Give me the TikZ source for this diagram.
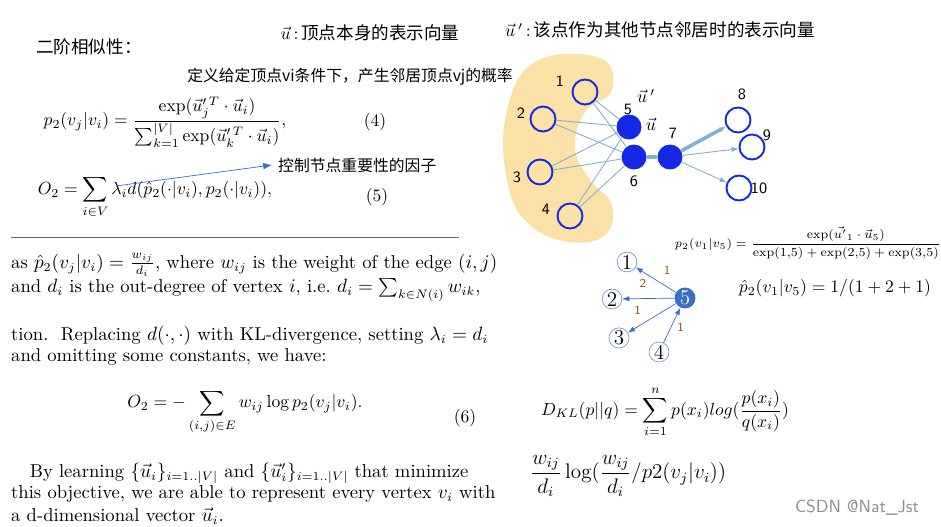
\documentclass[tikz,border=0pt]{standalone}
\usepackage{amssymb,amsmath}
\usepackage{fontspec}
\newfontfamily\cjk{Noto Sans CJK SC}
\usetikzlibrary{positioning,arrows.meta}
\definecolor{nodeblue}{RGB}{20,40,230}
\definecolor{edgeblue}{RGB}{130,175,210}
\definecolor{blob}{RGB}{250,225,165}
\definecolor{smallblue}{RGB}{60,110,200}
\tikzset{
  open/.style={circle,draw=nodeblue,line width=1.1pt,minimum size=0.5cm,inner sep=0pt},
  full/.style={circle,fill=nodeblue,minimum size=0.5cm,inner sep=0pt},
  nlab/.style={font=\sffamily\small},
  edge/.style={edgeblue,line width=0.5pt},
  small/.style={circle,draw=smallblue!70,inner sep=0.5pt,minimum size=0.38cm,font=\large},
  wlab/.style={font=\sffamily\scriptsize,text=brown!70!black},
  body/.style={anchor=west,font=\fontsize{10.6}{12}\selectfont}
}
\begin{document}
\begin{tikzpicture}[x=0.02cm,y=-0.02cm]
\useasboundingbox (0,0) rectangle (941,527);
\fill[white] (0,0) rectangle (941,527);
% titles
\node (tu) at (370,33) {$\vec u$\,:\,{\cjk 顶点本身的表示向量}};
\node (tup) at (660,30) {$\vec u\,'$\,:\,{\cjk 该点作为其他节点邻居时的表示向量}};
\node[anchor=west] (sec) at (30,47) {\cjk 二阶相似性：};
\node (def) at (350,77) {\small\cjk 定义给定顶点vi条件下，产生邻居顶点vj的概率};
% equations
\node (eq4) at (165,122) {$\displaystyle p_2(v_j|v_i)=\frac{\exp(\vec u_j'^{\,T}\cdot\vec u_i)}{\sum_{k=1}^{|V|}\exp(\vec u_k'^{\,T}\cdot\vec u_i)},$};
\node (n4) at (375,122) {(4)};
\node (eq5) at (155,197) {$\displaystyle O_2=\sum_{i\in V}\lambda_i d(\hat p_2(\cdot|v_i),p_2(\cdot|v_i)),$};
\node (n5) at (377,197) {(5)};
\node[anchor=west] (fac) at (272,165) {\small\cjk 控制节点重要性的因子};
\coordinate (lam) at (116,186);
\draw[-{Latex[length=5pt]},smallblue] (lam) -- (fac.west);
% body text
\begin{scope}[every node/.append style={body}]
\node (l0) at (5,240) {\textcolor{black!60}{\rule[3pt]{255pt}{0.8pt}}};
\node (l1) at (5,265) {as $\hat p_2(v_j|v_i)=\frac{w_{ij}}{d_i}$, where $w_{ij}$ is the weight of the edge $(i,j)$};
\node (l2) at (5,290) {and $d_i$ is the out-degree of vertex $i$, i.e.\ $d_i=\sum_{k\in N(i)}w_{ik}$,};
\node (l3) at (5,336) {tion.\ \ Replacing $d(\cdot,\cdot)$ with KL-divergence, setting $\lambda_i=d_i$};
\node (l4) at (5,357) {and omitting some constants, we have:};
\node (l5) at (5,473) {\quad By learning $\{\vec u_i\}_{i=1..|V|}$ and $\{\vec u_i'\}_{i=1..|V|}$ that minimize};
\node (l6) at (5,494) {this objective, we are able to represent every vertex $v_i$ with};
\node (l7) at (5,516) {a d-dimensional vector $\vec u_i$.};
\end{scope}
\node (eq6) at (245,412) {$\displaystyle O_2=-\sum_{(i,j)\in E}w_{ij}\log p_2(v_j|v_i).$};
\node (n6) at (465,418) {(6)};
\node (kl) at (665,412) {$\displaystyle D_{KL}(p||q)=\sum_{i=1}^{n}p(x_i)log(\frac{p(x_i)}{q(x_i)})$};
\node (wl) at (628,476) {\large$\dfrac{w_{ij}}{d_i}\log(\dfrac{w_{ij}}{d_i}/p2(v_j|v_i))$};
\node[text=black!45,font=\sffamily] (csdn) at (857,508) {CSDN @Nat\_Jst};
% graph
\fill[blob] plot[smooth cycle,tension=0.7] coordinates {(535,62) (600,58) (612,90) (585,112) (575,148) (590,180) (612,205) (605,235) (570,242) (530,225) (508,185) (506,115)};
\foreach \n/\x/\y in {1/585/92,2/543/119,3/540/172,4/570/216,8/738/120,9/752/147,10/739/188}
  \node[open] (v\n) at (\x,\y) {};
\foreach \n/\x/\y in {5/629/127,6/634/157,7/670/157}
  \node[full] (v\n) at (\x,\y) {};
\foreach \n/\x/\y in {1/560/81,2/521/113,3/517/177,4/546/209,5/628/110,6/634/181,7/673/133,8/742/94,9/767/135,10/759/188}
  \node[nlab] (t\n) at (\x,\y) {\n};
\node (up) at (646,96) {$\vec u\,'$};
\node (uu) at (651,124) {$\vec u$};
\foreach \a in {1,2,3,4}
  \foreach \b in {5,6}
    \draw[edge] (v\a) -- (v\b);
\draw[edgeblue,line width=2.5pt] (v6) -- (v7);
\draw[edgeblue,line width=2pt,-{Latex[length=4pt]}] (v7) -- (v8);
\draw[edge,-{Latex[length=4pt]}] (v7) -- (v9);
\draw[edge,-{Latex[length=4pt]}] (v7) -- (v10);
% probability
\node (pfr) at (808,243) {\scriptsize$p_2(v_1|v_5)=\dfrac{\exp(\vec{u'}_1\cdot\vec u_5)}{\exp(1{,}5)+\exp(2{,}5)+\exp(3{,}5)}$};
\node (phat) at (835,288) {$\hat p_2(v_1|v_5)=1/(1+2+1)$};
% small graph
\node[circle,fill=smallblue,text=white,inner sep=0.5pt,minimum size=0.42cm,font=\large] (s5) at (685,298) {5};
\foreach \n/\x/\y in {1/627/262,2/612/299,3/619/338,4/659/352}
  \node[small] (s\n) at (\x,\y) {\n};
\draw[smallblue,-{Latex[length=4pt]}] (s5) -- node[wlab,above right,pos=0.45] {1} (s1);
\draw[smallblue,-{Latex[length=4pt]}] (s5) -- node[wlab,above=3pt,pos=0.6] {2} (s2);
\draw[smallblue,-{Latex[length=4pt]}] (s5) -- node[wlab,above left,pos=0.6] {1} (s3);
\draw[smallblue,-{Latex[length=4pt]}] (s4) -- node[wlab,right,pos=0.45] {1} (s5);
\end{tikzpicture}
\end{document}
